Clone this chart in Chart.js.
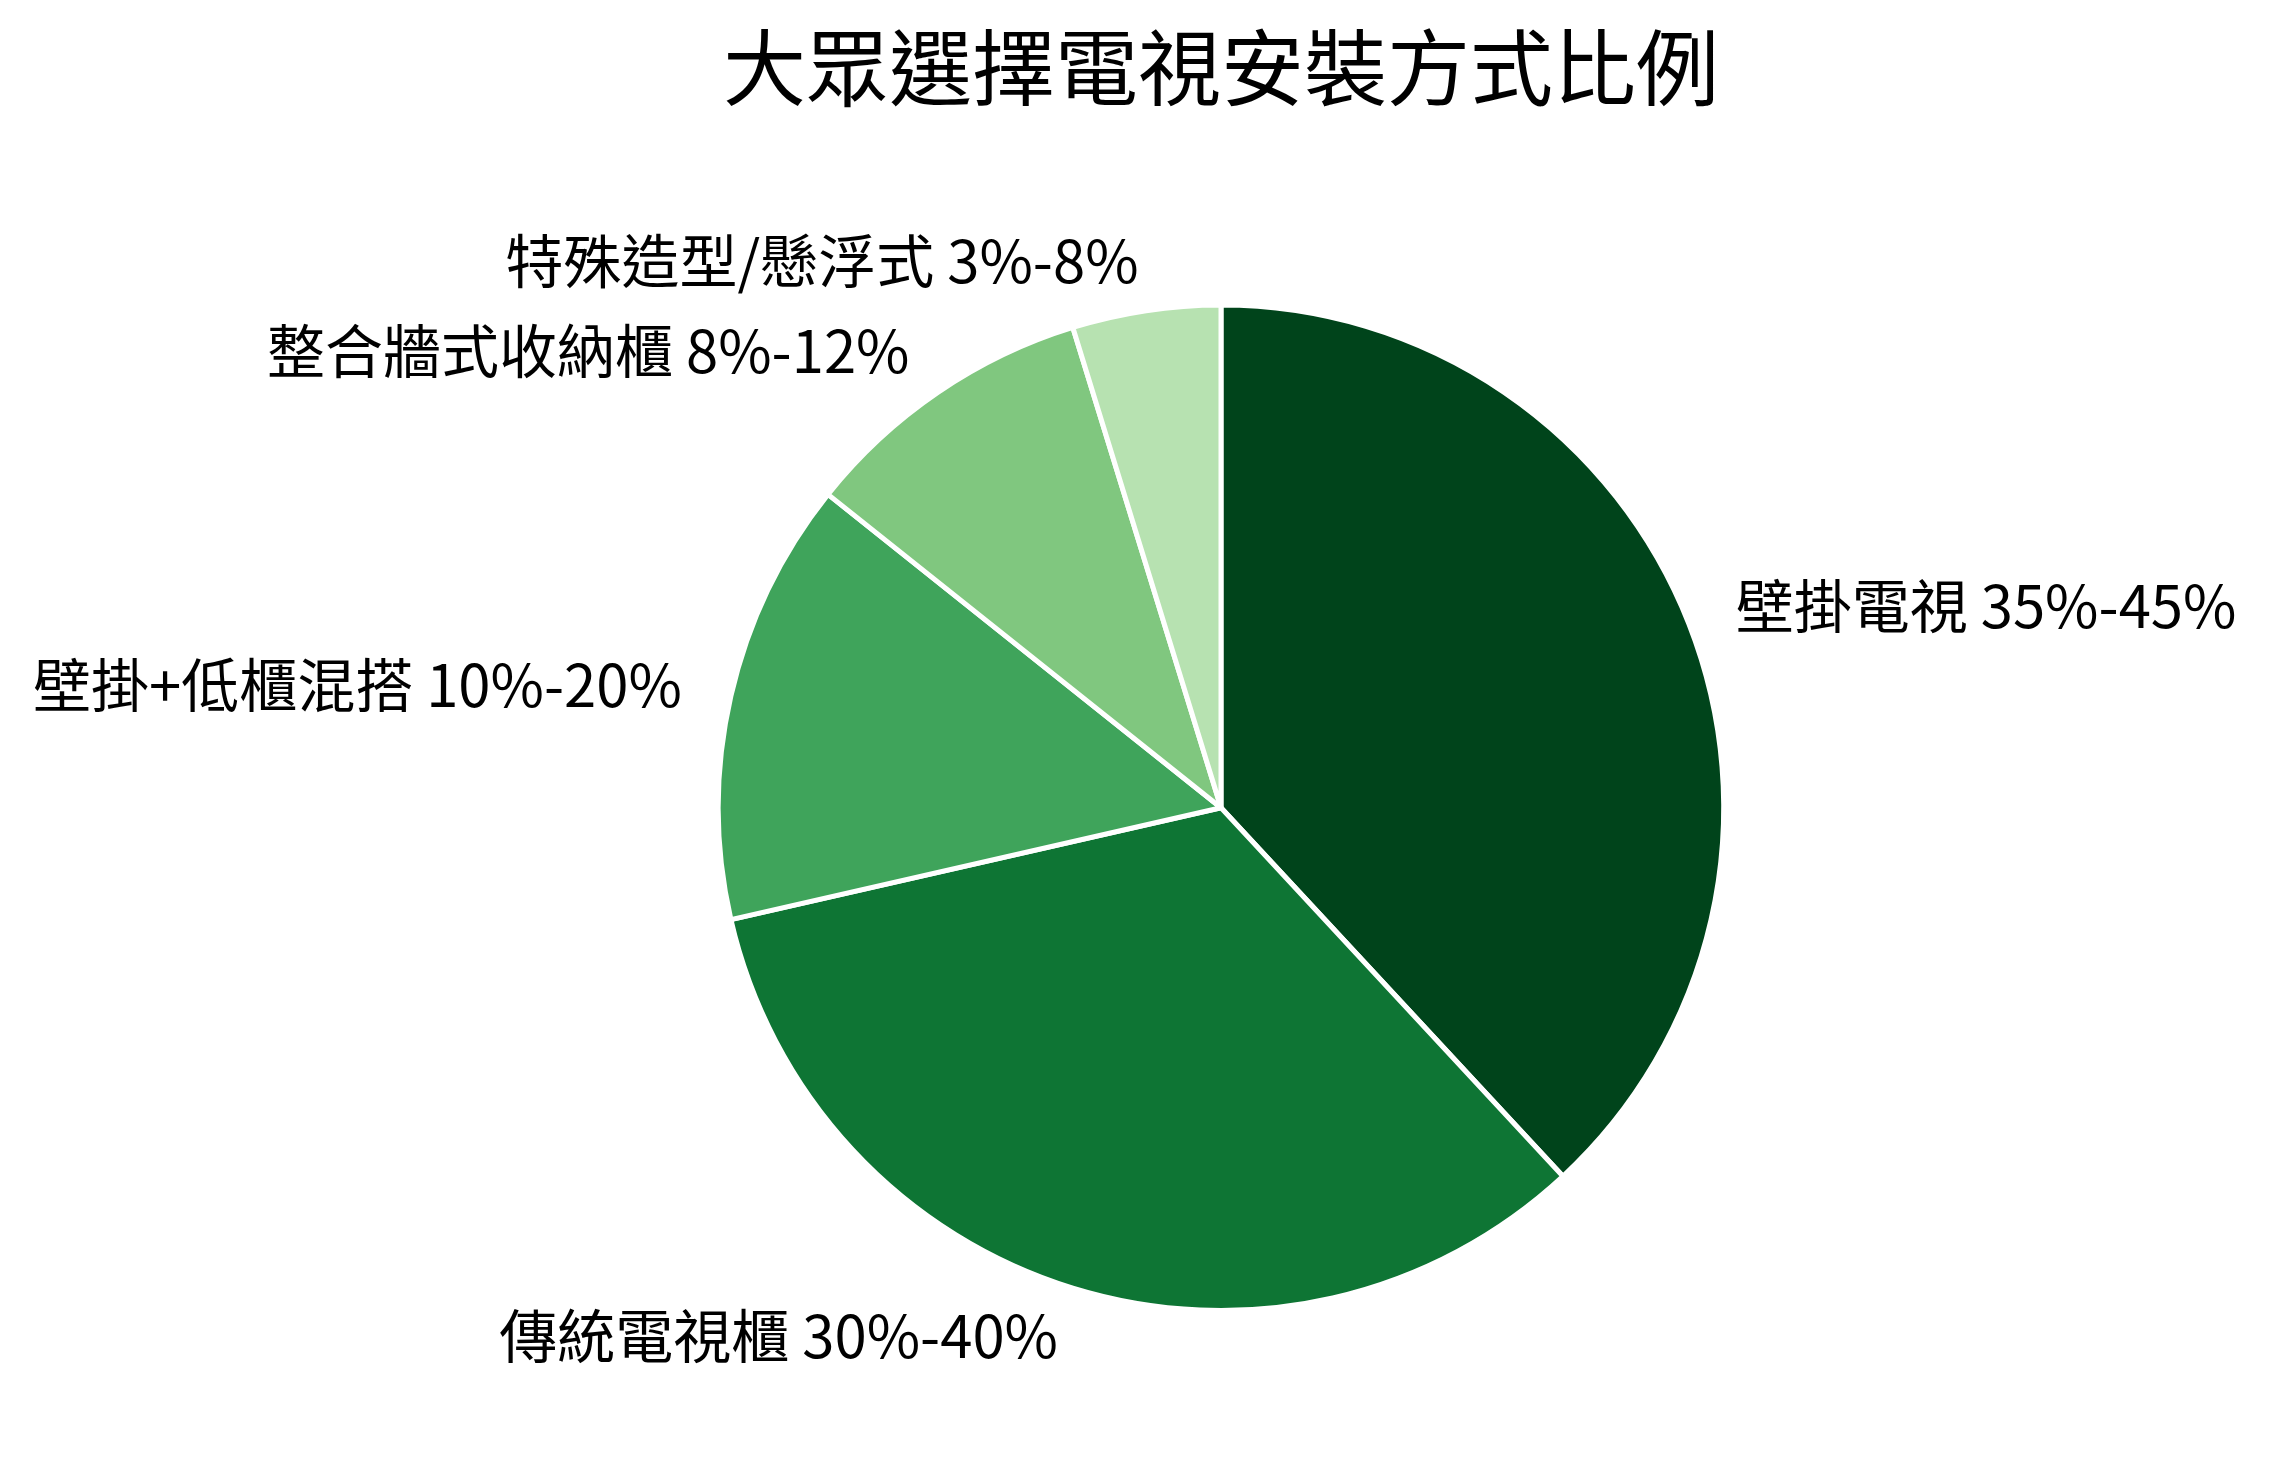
<!DOCTYPE html>
<html>
<head>
<meta charset="utf-8">
<script src="https://cdn.jsdelivr.net/npm/chart.js@4"></script>
<style>
  html, body { margin: 0; padding: 0; background: #fff; }
  canvas { display: block; }
</style>
</head>
<body>
<canvas id="chart" width="2270" height="1468"></canvas>
<script>
// data (ranges in the labels, slice sizes from the angles)
const categories = ['壁掛電視', '傳統電視櫃', '壁掛+低櫃混搭', '整合牆式收納櫃', '特殊造型/懸浮式'];
const ranges = ['35%-45%', '30%-40%', '10%-20%', '8%-12%', '3%-8%'];
const shares = [40, 35, 15, 10, 5];
const colors = ['#00441b', '#0e7534', '#3fa45b', '#80c77f', '#b7e2b1'];

const fontFamily = '"Noto Sans CJK TC", "Noto Sans CJK SC", "Noto Sans", sans-serif';

// outside labels, placed like matplotlib does (1.1 x radius, left/right aligned)
const outsideLabels = {
  id: 'outsideLabels',
  afterDraw(chart) {
    const ctx = chart.ctx;
    const arcs = chart.getDatasetMeta(0).data;
    ctx.save();
    ctx.font = '58px ' + fontFamily;
    ctx.fillStyle = '#000';
    ctx.textBaseline = 'middle';
    arcs.forEach((arc, i) => {
      const mid = (arc.startAngle + arc.endAngle) / 2;
      const r = arc.outerRadius * 1.1;
      const x = arc.x + Math.cos(mid) * r;
      const y = arc.y + Math.sin(mid) * r;
      ctx.textAlign = Math.cos(mid) >= 0 ? 'left' : 'right';
      ctx.fillText(categories[i] + ' ' + ranges[i], x, y);
    });
    ctx.restore();
  }
};

const ctx = document.getElementById('chart').getContext('2d');
const chart = new Chart(ctx, {
  type: 'pie',
  data: {
    labels: categories,
    datasets: [{
      data: shares,
      backgroundColor: colors,
      borderColor: '#ffffff',
      borderWidth: 5
    }]
  },
  options: {
    responsive: false,
    animation: false,
    devicePixelRatio: 1,
    layout: {
      padding: { top: 0, bottom: 155, left: 714, right: 542 }
    },
    plugins: {
      legend: { display: false },
      tooltip: { enabled: false },
      title: {
        display: true,
        text: '大眾選擇電視安裝方式比例',
        color: '#000',
        font: { family: fontFamily, size: 83, weight: 'normal', lineHeight: 1.2 },
        padding: { top: 18, bottom: 185 }
      }
    }
  },
  plugins: [outsideLabels]
});
</script>
</body>
</html>
